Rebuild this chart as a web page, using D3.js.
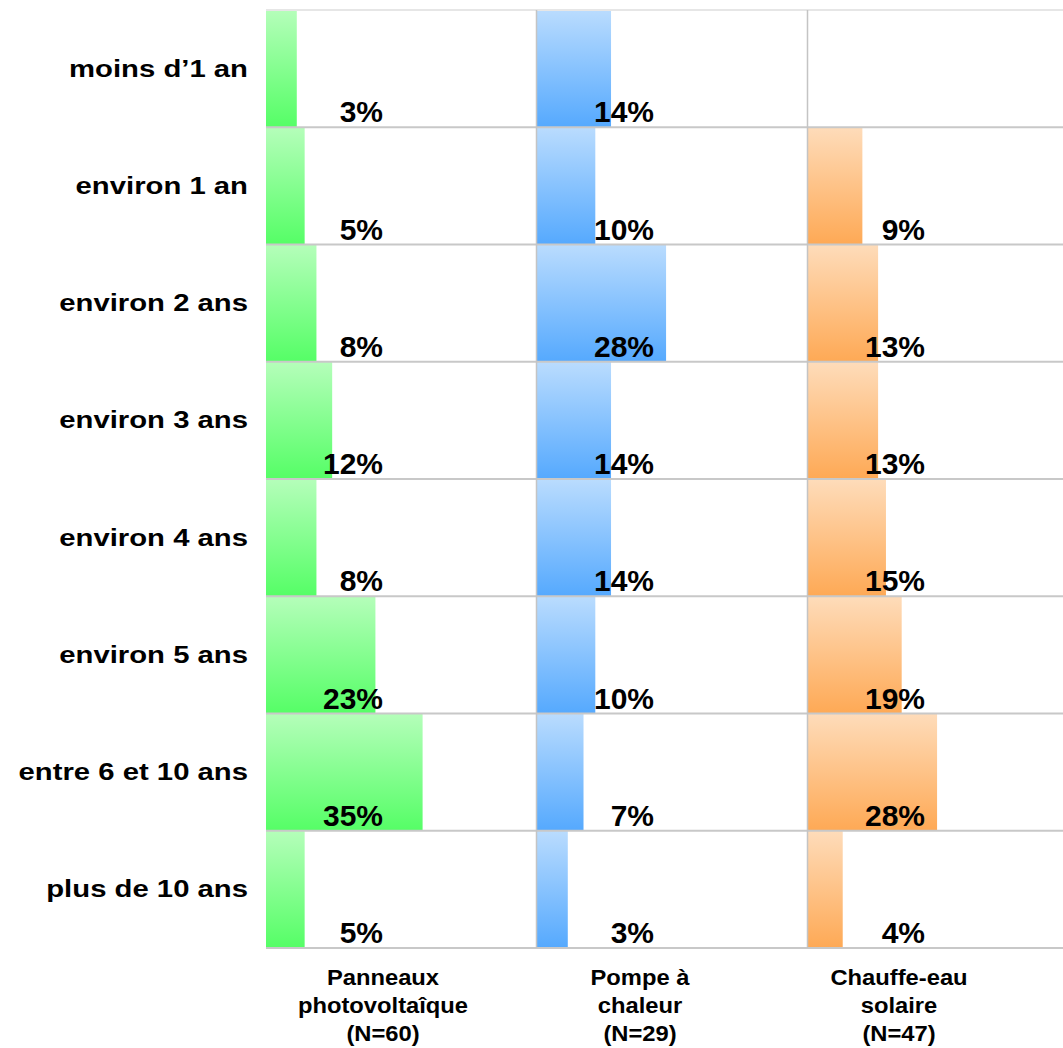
<!DOCTYPE html>
<html lang="fr">
<head>
    <meta charset="UTF-8">
    <title>Ancienneté des équipements</title>
    <script src="https://d3js.org/d3.v7.min.js"></script>
    <style>
        body {
            margin: 0;
            background: #ffffff;
            overflow: hidden;
        }
        svg text {
            font-family: "Liberation Sans", Arial, sans-serif;
            font-weight: bold;
            fill: #000;
        }
    </style>
</head>
<body>
<div id="chart"></div>
<script>
    // categories (rows)
    const categories = ["moins d\u20191 an", "environ 1 an", "environ 2 ans", "environ 3 ans",
        "environ 4 ans", "environ 5 ans", "entre 6 et 10 ans", "plus de 10 ans"];

    // series (panels)
    const series = ["pv", "pac", "cesi"];
    const seriesLabels = [
        ["Panneaux", "photovoltaîque", "(N=60)"],
        ["Pompe à", "chaleur", "(N=29)"],
        ["Chauffe-eau", "solaire", "(N=47)"]
    ];

    // values in %
    const pvValues   = [3, 5, 8, 12, 8, 23, 35, 5];
    const pacValues  = [14, 10, 28, 14, 14, 10, 7, 3];
    const cesiValues = [null, 9, 13, 13, 15, 19, 28, 4];

    const width = 1063, height = 1048;
    const allValues = [pvValues, pacValues, cesiValues];

    // colours: light top -> saturated bottom
    const colours = [
        ["#b5feba", "#55fe66"],
        ["#badcfe", "#55a9fe"],
        ["#fedcba", "#fea955"]
    ];
    // where the bottom labels sit relative to each panel
    const labelOffsets = [117, 103, 91];

    const svg = d3.select("#chart").append("svg")
        .attr("width", width)
        .attr("height", height);

    const panel = d3.scaleBand().domain(series).range([266, 1079]);
    const row = d3.scaleBand().domain(categories).range([10, 948]);
    // the bars start a little before 0%
    const x = d3.scaleLinear().domain([-4.83, 64.1]).range([0, panel.bandwidth()]);

    const defs = svg.append("defs");
    series.forEach((s, i) => {
        const g = defs.append("linearGradient")
            .attr("id", "grad-" + s)
            .attr("x1", 0).attr("y1", 0).attr("x2", 0).attr("y2", 1);
        g.append("stop").attr("offset", "0%").attr("stop-color", colours[i][0]);
        g.append("stop").attr("offset", "100%").attr("stop-color", colours[i][1]);
    });

    // bars
    series.forEach((s, i) => {
        const data = categories.map((c, j) => ({ cat: c, v: allValues[i][j] }))
            .filter(d => d.v !== null);
        const g = svg.append("g").attr("transform", `translate(${panel(s)},0)`);
        g.selectAll("rect")
            .data(data)
            .join("rect")
            .attr("x", 0)
            .attr("y", d => row(d.cat))
            .attr("width", d => x(d.v) - x(x.domain()[0]))
            .attr("height", row.bandwidth())
            .attr("fill", `url(#grad-${s})`);
    });

    // grid
    const grid = svg.append("g");
    grid.append("line")
        .attr("x1", 266).attr("x2", width)
        .attr("y1", row.range()[0]).attr("y2", row.range()[0])
        .attr("stroke", "#e6e6e6").attr("stroke-width", 2);
    grid.selectAll("line.h")
        .data(categories)
        .join("line")
        .attr("class", "h")
        .attr("x1", 266).attr("x2", width)
        .attr("y1", d => row(d) + row.bandwidth())
        .attr("y2", d => row(d) + row.bandwidth())
        .attr("stroke", "#c8c8c8").attr("stroke-width", 2);
    grid.selectAll("line.v")
        .data(series.slice(1))
        .join("line")
        .attr("class", "v")
        .attr("x1", d => panel(d) - 0.5).attr("x2", d => panel(d) - 0.5)
        .attr("y1", row.range()[0]).attr("y2", row.range()[1])
        .attr("stroke", "#c4c4c4").attr("stroke-width", 1.5);

    // percent labels
    series.forEach((s, i) => {
        const data = categories.map((c, j) => ({ cat: c, v: allValues[i][j] }))
            .filter(d => d.v !== null);
        svg.append("g")
            .selectAll("text")
            .data(data)
            .join("text")
            .attr("x", panel(s) + 117)
            .attr("y", d => row(d.cat) + row.bandwidth() - 5)
            .attr("text-anchor", "end")
            .style("font-size", "30px")
            .text(d => d.v + "%");
    });

    // row labels
    svg.append("g")
        .selectAll("text")
        .data(categories)
        .join("text")
        .attr("transform", d => `translate(248,${row(d) + row.bandwidth() / 2 + 8}) scale(1.22,1)`)
        .attr("text-anchor", "end")
        .style("font-size", "24px")
        .text(d => d);

    // panel labels
    series.forEach((s, i) => {
        const t = svg.append("text")
            .attr("transform", `translate(${panel(s) + labelOffsets[i]},985) scale(1.08,1)`)
            .attr("text-anchor", "middle")
            .style("font-size", "22px");
        t.selectAll("tspan")
            .data(seriesLabels[i])
            .join("tspan")
            .attr("x", 0)
            .attr("dy", (d, k) => k === 0 ? 0 : 28)
            .text(d => d);
    });
</script>
</body>
</html>
